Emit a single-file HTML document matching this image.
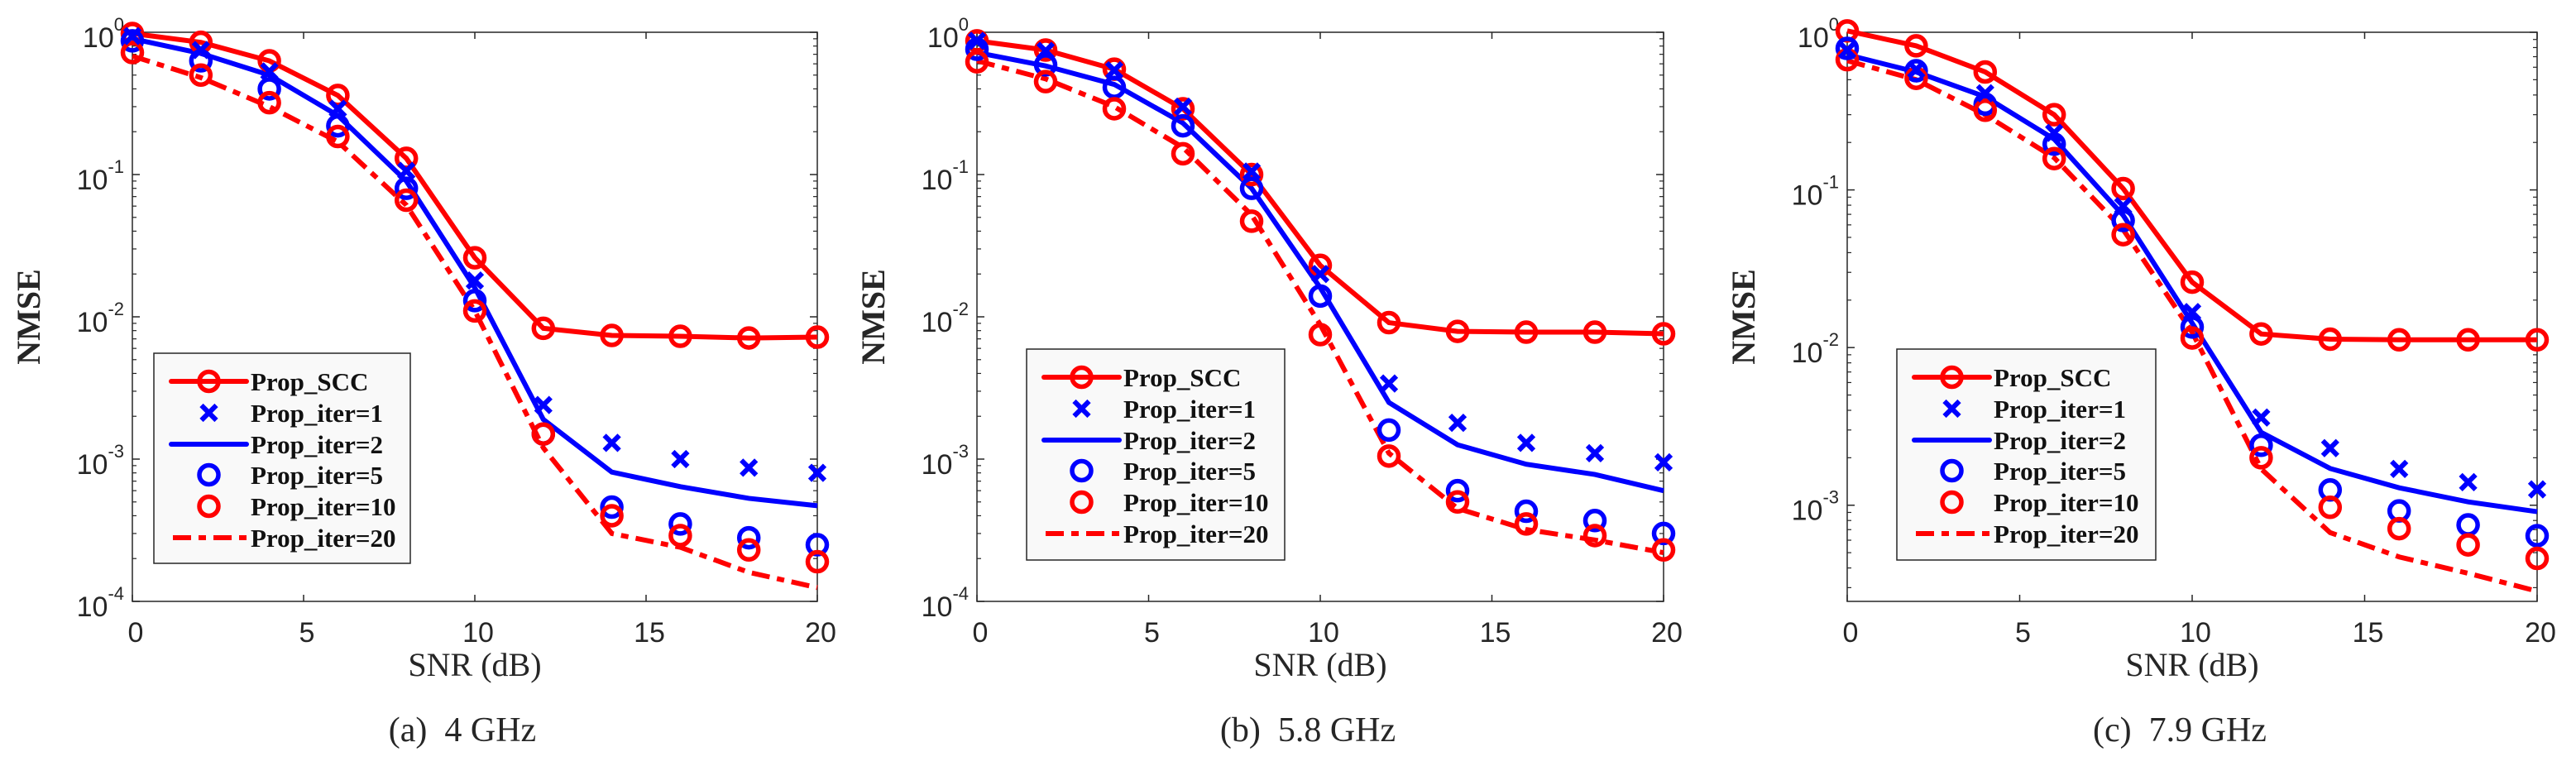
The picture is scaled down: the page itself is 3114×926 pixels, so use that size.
<!DOCTYPE html>
<html><head><meta charset="utf-8">
<style>
html,body{margin:0;padding:0;background:#fff;}
svg{display:block;}
</style></head>
<body>
<svg id="fig" xmlns="http://www.w3.org/2000/svg" width="3114" height="926" viewBox="0 0 3114 926"></svg>
<script>
const snr = [0,2,4,6,8,10,12,14,16,18,20];
const xTicks = [0,5,10,15,20];
const seriesNames = ["Prop_SCC","Prop_iter=1","Prop_iter=2","Prop_iter=5","Prop_iter=10","Prop_iter=20"];
// Panel (a) 4 GHz
const a_scc  = [0.98,0.85,0.63,0.36,0.13,0.026,0.0083,0.0074,0.0073,0.0071,0.0072];
const a_it1  = [0.94,0.75,0.53,0.29,0.106,0.018,0.0024,0.0013,0.001,0.00087,0.0008];
const a_it2  = [0.9,0.71,0.5,0.26,0.09,0.016,0.0019,0.00081,0.00064,0.00053,0.00047];
const a_it5  = [0.87,0.63,0.4,0.22,0.08,0.013,0.0015,0.00046,0.00035,0.00028,0.00025];
const a_it10 = [0.72,0.5,0.32,0.185,0.066,0.011,0.0015,0.0004,0.00029,0.00023,0.00019];
const a_it20 = [0.68,0.48,0.3,0.17,0.061,0.011,0.0012,0.0003,0.00024,0.00016,0.000125];
// Panel (b) 5.8 GHz
const b_scc  = [0.87,0.75,0.55,0.29,0.1,0.023,0.0091,0.0079,0.0078,0.0078,0.0076];
const b_it1  = [0.87,0.74,0.54,0.3,0.105,0.02,0.0034,0.0018,0.0013,0.0011,0.00095];
const b_it2  = [0.72,0.58,0.43,0.23,0.08,0.016,0.0025,0.00126,0.00092,0.00078,0.0006];
const b_it5  = [0.76,0.59,0.41,0.22,0.08,0.014,0.0016,0.0006,0.00043,0.00037,0.0003];
const b_it10 = [0.62,0.45,0.29,0.14,0.047,0.0075,0.00105,0.0005,0.00035,0.00029,0.00023];
const b_it20 = [0.63,0.47,0.3,0.155,0.052,0.0088,0.0011,0.00045,0.00032,0.00027,0.00022];
// Panel (c) 7.9 GHz
const c_scc  = [1.02,0.82,0.56,0.3,0.102,0.026,0.0122,0.0113,0.0112,0.0112,0.0112];
const c_it1  = [0.77,0.58,0.41,0.23,0.079,0.0168,0.0036,0.0023,0.0017,0.0014,0.00126];
const c_it2  = [0.72,0.56,0.39,0.21,0.069,0.0143,0.0029,0.00171,0.00129,0.00105,0.00091];
const c_it5  = [0.79,0.57,0.35,0.195,0.064,0.0135,0.0024,0.00125,0.00092,0.00075,0.00064];
const c_it10 = [0.67,0.51,0.32,0.158,0.052,0.0115,0.002,0.00097,0.00071,0.00056,0.00046];
const c_it20 = [0.66,0.5,0.3,0.16,0.056,0.0125,0.0017,0.00067,0.00047,0.00037,0.000285];
const captions = ["(a)\u00a0\u00a04 GHz","(b)\u00a0\u00a05.8 GHz","(c)\u00a0\u00a07.9 GHz"];

const NS="http://www.w3.org/2000/svg";
const svg=document.getElementById('fig');
function mk(tag,attrs,parent){const e=document.createElementNS(NS,tag);for(const k in attrs)e.setAttribute(k,attrs[k]);(parent||svg).appendChild(e);return e;}

const panels=[
 {id:'a',left:160,right:988,top:39,bottom:727,yMin:-4,yMax:0,legend:[186,427,310,254],data:[a_scc,a_it1,a_it2,a_it5,a_it10,a_it20],yTickExp:[0,-1,-2,-3,-4]},
 {id:'b',left:1181,right:2011,top:39,bottom:727,yMin:-4,yMax:0,legend:[1241,422,312,255],data:[b_scc,b_it1,b_it2,b_it5,b_it10,b_it20],yTickExp:[0,-1,-2,-3,-4]},
 {id:'c',left:2233,right:3067,top:39,bottom:727,yMin:-3.61,yMax:0,legend:[2293,422,313,255],data:[c_scc,c_it1,c_it2,c_it5,c_it10,c_it20],yTickExp:[0,-1,-2,-3]}
];
const RED='#ff0000', BLUE='#0000ff';

panels.forEach((p,pi)=>{
  const g=mk('g',{});
  
  
  const xS=v=>p.left+(v-0)/20*(p.right-p.left);
  const yS=v=>p.top+(p.yMax-Math.log10(v))/(p.yMax-p.yMin)*(p.bottom-p.top);
  const box=mk('rect',{x:p.left,y:p.top,width:p.right-p.left,height:p.bottom-p.top,fill:'#fff',stroke:'#262626','stroke-width':1.5},g);
  
  
  xTicks.forEach(t=>{
    const x=xS(t);
    mk('line',{x1:x,y1:p.bottom,x2:x,y2:p.bottom-8,stroke:'#262626','stroke-width':1.5},g);
    mk('line',{x1:x,y1:p.top,x2:x,y2:p.top+8,stroke:'#262626','stroke-width':1.5},g);
    const tl=mk('text',{x:x+4,y:776,'font-family':'Liberation Sans, sans-serif','font-size':34,fill:'#262626','text-anchor':'middle'},g);
    tl.textContent=t;
    
    
  });
  for(let e=Math.ceil(p.yMin);e<=p.yMax;e++){
    const y=yS(Math.pow(10,e));
    mk('line',{x1:p.left,y1:y,x2:p.left+9,y2:y,stroke:'#262626','stroke-width':1.5},g);
    mk('line',{x1:p.right,y1:y,x2:p.right-9,y2:y,stroke:'#262626','stroke-width':1.5},g);
    for(let m=2;m<=9;m++){
      const v=m*Math.pow(10,e-1); const lv=Math.log10(v);
      if(lv<p.yMin||lv>p.yMax) continue;
      const yy=yS(v);
      mk('line',{x1:p.left,y1:yy,x2:p.left+5,y2:yy,stroke:'#262626','stroke-width':1.2},g);
      mk('line',{x1:p.right,y1:yy,x2:p.right-5,y2:yy,stroke:'#262626','stroke-width':1.2},g);
    }
  }
  p.yTickExp.forEach(e=>{
    const y=yS(Math.pow(10,e));
    const t=mk('text',{x:p.left-10,y:y+18,'font-family':'Liberation Sans, sans-serif','font-size':34,fill:'#262626','text-anchor':'end'},g);
    
    
    const b=mk('tspan',{},t); b.textContent='10';
    const s=mk('tspan',{'font-size':22,dy:-20},t); s.textContent=String(e);
  });
  const xt=mk('text',{x:(p.left+p.right)/2,y:817,'font-family':'Liberation Serif, serif','font-size':40,fill:'#262626','text-anchor':'middle'},g);
  xt.textContent='SNR (dB)';
  
  
  const yx=p.left-112, yy=383;
  const yt=mk('text',{x:yx,y:yy,'font-family':'Liberation Serif, serif','font-size':40,'font-weight':'bold',fill:'#262626','text-anchor':'middle',transform:`rotate(-90 ${yx} ${yy})`},g);
  yt.textContent='NMSE';
  
  
  const cap=mk('text',{x:(p.left+p.right)/2-15,y:896,'font-family':'Liberation Serif, serif','font-size':42,fill:'#262626','text-anchor':'middle'},g);
  cap.textContent=captions[pi];
  
  

  const clip='clip'+p.id;
  const cp=mk('clipPath',{id:clip},g); mk('rect',{x:p.left-20,y:0,width:p.right-p.left+40,height:p.bottom},cp);
  const sg=mk('g',{'clip-path':`url(#${clip})`},g);
  const pts=arr=>arr.map((v,i)=>xS(snr[i])+','+yS(v)).join(' ');
  const [scc,it1,it2,it5,it10,it20]=p.data;
  let l=mk('polyline',{points:pts(it20),fill:'none',stroke:RED,'stroke-width':6,'stroke-dasharray':'22 9 9 9'},sg);
   
  l=mk('polyline',{points:pts(it2),fill:'none',stroke:BLUE,'stroke-width':6},sg);
   
  l=mk('polyline',{points:pts(scc),fill:'none',stroke:RED,'stroke-width':6},sg);
   
  const circ=(arr,col,name)=>arr.forEach((v,i)=>{
    const c=mk('circle',{cx:xS(snr[i]),cy:yS(v),r:11.5,fill:'none',stroke:col,'stroke-width':5.5},sg);
     
  });
  circ(scc,RED,'marker-prop-scc');
  circ(it5,BLUE,'marker-prop-iter-5');
  circ(it10,RED,'marker-prop-iter-10');
  it1.forEach((v,i)=>{
    const x=xS(snr[i]),y=yS(v),d=9;
    const c=mk('path',{d:`M${x-d},${y-d}L${x+d},${y+d}M${x-d},${y+d}L${x+d},${y-d}`,stroke:BLUE,'stroke-width':6,fill:'none'},sg);
     
  });

  const [lx,ly,lw,lh]=p.legend;
  const lg=mk('g',{},g);
  
  
  mk('rect',{x:lx,y:ly,width:lw,height:lh,fill:'#f9f9f9',stroke:'#262626','stroke-width':1.5},lg);
  const rows=[34,72,110,147,185,223];
  const x0=lx+21,x1=lx+112,xm=(x0+x1)/2;
  seriesNames.forEach((nm,i)=>{
    const y=ly+rows[i];
    const e=mk('g',{},lg);
    
    
    if(i===0){mk('line',{x1:x0,y1:y,x2:x1,y2:y,stroke:RED,'stroke-width':6,'stroke-linecap':'round'},e);mk('circle',{cx:xm,cy:y,r:11.5,fill:'none',stroke:RED,'stroke-width':5.5},e);}
    if(i===1){mk('path',{d:`M${xm-9},${y-9}L${xm+9},${y+9}M${xm-9},${y+9}L${xm+9},${y-9}`,stroke:BLUE,'stroke-width':6},e);}
    if(i===2){mk('line',{x1:x0,y1:y,x2:x1,y2:y,stroke:BLUE,'stroke-width':6,'stroke-linecap':'round'},e);}
    if(i===3){mk('circle',{cx:xm,cy:y,r:11.5,fill:'none',stroke:BLUE,'stroke-width':5.5},e);}
    if(i===4){mk('circle',{cx:xm,cy:y,r:11.5,fill:'none',stroke:RED,'stroke-width':5.5},e);}
    if(i===5){mk('line',{x1:x0+2,y1:y,x2:x1,y2:y,stroke:RED,'stroke-width':6,'stroke-dasharray':'22 9 9 9'},e);}
    const t=mk('text',{x:lx+117,y:y+11,'font-family':'Liberation Serif, serif','font-size':31,'font-weight':'bold',fill:'#111'},e);
    t.textContent=nm;
  });
});
</script>
</body></html>
